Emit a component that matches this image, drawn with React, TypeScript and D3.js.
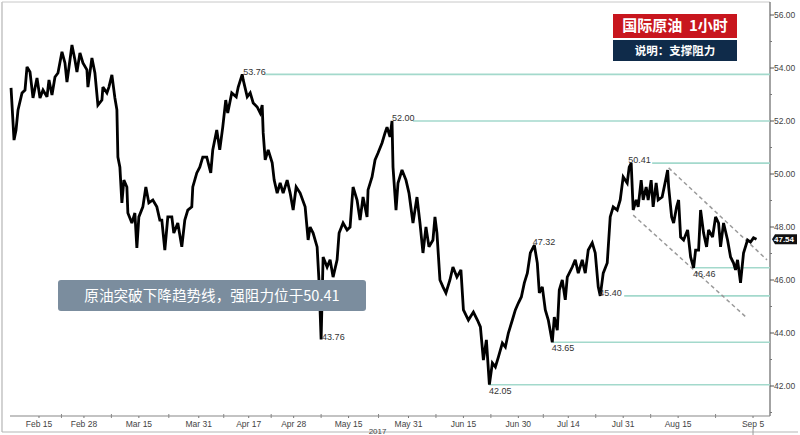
import React from 'react';
import * as d3 from 'd3';

// [trading-day offset from Feb 7 2017, price]
const priceSeries: [number, number][] = [
  [0.4,53.25],[1.0,51.28],[1.4,51.66],[1.8,52.42],[2.6,53.06],[3.2,53.17],[3.6,54.04],[4.2,53.85],[4.8,52.87],[5.6,53.62],
  [6.2,52.87],[6.8,53.17],[7.6,52.91],[8.0,53.55],[8.6,52.98],[9.2,53.66],[9.8,53.81],[10.6,54.61],[11.2,54.19],[11.6,53.47],
  [12.2,54.30],[12.6,54.87],[13.2,54.30],[13.6,53.85],[14.2,54.57],[14.8,54.19],[15.6,53.93],[15.8,53.28],[16.6,54.38],[17.2,53.81],
  [17.8,52.60],[18.6,52.79],[18.8,53.28],[19.6,53.06],[20.0,53.28],[20.6,53.74],[21.2,52.87],[21.6,52.42],[21.8,50.64],[22.2,50.26],
  [22.6,48.91],[23.0,49.77],[23.6,49.51],[23.8,48.53],[24.6,48.15],[25.2,48.53],[25.6,47.21],[26.0,48.38],[26.8,48.76],[27.4,49.51],
  [28.0,48.91],[28.8,49.02],[29.6,48.76],[30.2,48.26],[30.6,48.26],[31.2,47.13],[31.8,48.38],[32.6,48.38],[33.0,47.77],[33.8,48.15],
  [34.6,47.25],[35.2,48.26],[35.8,48.64],[36.6,48.76],[36.8,49.51],[37.6,50.04],[38.2,50.26],[38.8,50.64],[39.6,50.64],[40.4,50.04],
  [40.8,50.91],[41.6,51.66],[42.2,50.91],[42.8,51.77],[43.4,52.79],[43.8,52.30],[44.6,53.06],[45.5,52.91],[45.9,53.28],[46.7,53.76],
  [46.9,53.55],[47.7,52.91],[48.3,53.06],[48.9,52.68],[49.7,52.53],[50.3,52.30],[50.7,52.60],[50.9,51.55],[51.3,50.53],[51.9,50.91],
  [52.7,50.42],[53.1,49.77],[53.7,49.28],[54.3,49.66],[54.9,49.28],[55.7,49.77],[56.3,49.28],[56.9,48.64],[57.5,49.51],[58.3,49.28],
  [59.3,48.76],[59.9,47.51],[60.3,48.00],[60.9,47.77],[61.7,47.25],[62.1,45.89],[62.5,43.76],[62.9,46.87],[63.7,46.49],[64.3,46.76],
  [64.9,46.11],[65.7,46.76],[66.1,47.77],[66.9,48.15],[67.7,47.89],[68.3,48.00],[68.7,49.02],[68.9,49.51],[69.7,49.02],[70.3,48.26],
  [70.9,49.13],[71.7,48.38],[71.9,49.40],[72.7,49.89],[73.3,50.53],[73.9,50.79],[74.7,51.17],[75.3,51.55],[75.7,51.77],[76.3,51.40],
  [76.7,52.00],[76.9,50.26],[77.5,48.64],[77.9,49.66],[78.7,50.15],[79.5,49.77],[80.1,49.28],[80.9,48.15],[81.7,49.13],[82.3,48.15],
  [82.9,47.02],[83.5,48.00],[84.1,47.25],[84.9,47.51],[85.3,48.38],[85.7,47.77],[86.3,46.00],[86.9,45.74],[87.5,45.51],[88.3,46.00],
  [88.9,46.49],[89.7,46.11],[90.5,46.38],[91.0,44.87],[92.0,44.49],[93.0,44.79],[93.8,44.49],[94.4,44.23],[95.0,42.98],[95.6,43.74],
  [96.2,42.05],[96.8,42.87],[97.4,42.72],[98.0,43.09],[98.8,43.62],[99.4,43.47],[100.0,44.00],[100.8,44.49],[101.4,44.87],[102.0,45.13],
  [102.6,45.36],[103.2,45.89],[103.8,46.26],[104.4,47.02],[105.2,47.32],[105.8,46.64],[106.2,45.51],[106.8,45.74],[107.4,44.87],[108.0,44.49],
  [108.8,43.65],[109.2,44.60],[109.8,44.11],[110.2,45.62],[110.8,46.00],[111.4,45.25],[111.8,46.11],[112.8,46.49],[113.4,46.76],[114.0,46.26],
  [114.8,46.76],[115.4,46.26],[116.0,47.13],[116.8,47.40],[117.4,47.02],[118.0,45.74],[118.4,45.40],[119.0,46.26],[119.8,46.64],[120.4,48.38],
  [121.0,48.76],[121.8,48.64],[122.4,49.02],[123.0,49.89],[123.8,49.66],[124.2,50.26],[124.6,50.41],[125.0,48.64],[125.6,49.02],[126.0,48.76],
  [126.6,49.77],[127.0,49.02],[127.6,49.51],[128.0,49.02],[128.6,49.77],[129.0,48.76],[129.6,49.66],[130.0,49.02],[130.8,49.13],[131.5,49.77],
  [131.9,50.15],[132.1,49.51],[132.7,48.38],[133.1,48.15],[133.7,48.76],[134.1,49.02],[134.5,47.62],[135.1,47.51],[135.9,47.89],[136.5,46.87],
  [137.1,46.46],[137.5,47.13],[138.1,47.13],[138.5,48.64],[139.1,47.77],[139.7,47.25],[140.1,47.89],[140.9,47.62],[141.5,48.38],[142.1,48.15],
  [142.5,47.25],[143.1,48.15],[143.9,47.51],[144.5,46.87],[145.1,46.64],[145.5,46.38],[145.9,46.76],[146.5,45.89],[147.1,47.02],[147.9,47.51],
  [148.5,47.43],[149.1,47.59],[149.7,47.54],
];

const lastPrice = 47.54;

const yTickValues = [42, 44, 46, 48, 50, 52, 54, 56];
const yMinorTickValues = [41, 43, 45, 47, 49, 51, 53, 55];

const xTickDays = [6, 15, 26, 38, 48, 57, 68, 80, 91, 102, 112, 123, 134, 149];
const xTickLabels = ['Feb 15', 'Feb 28', 'Mar 15', 'Mar 31', 'Apr 17', 'Apr 28', 'May 15', 'May 31', 'Jun 15', 'Jun 30', 'Jul 14', 'Jul 31', 'Aug 15', 'Sep 5'];
const yearLabel = '2017';
const yearLabelDay = 73.8;

// support / resistance levels
const levelValues = [53.76, 52.0, 50.41, 46.46, 45.4, 43.65, 42.05];
const levelStartDays = [51.3, 80.9, 128.8, 137.0, 123.2, 108.9, 96.1];

// point annotations
const noteValues = [53.76, 52.0, 50.41, 47.32, 45.4, 46.46, 43.65, 43.76, 42.05];
const noteDays = [46.9, 76.7, 124.0, 104.9, 118.2, 137.0, 108.7, 62.7, 96.1];
const noteBelow = [false, false, false, false, false, true, true, false, true];

// falling channel (dashed)
const channelUpper: [number, number][] = [[132.1, 50.23], [151.8, 46.76]];
const channelLower: [number, number][] = [[125.0, 48.45], [147.6, 44.6]];

const titleText = '国际原油  1小时';
const subtitleText = '说明：支撑阻力';
const noteText = '原油突破下降趋势线，强阻力位于50.41';

const W = 800;
const H = 435;
const plotLeft = 2;
const plotTop = 2;
const plotRight = 770;
const plotBottom = 416;

export default function App() {
  const x = d3.scaleLinear().domain([0, 152.4]).range([9.04, plotRight]);
  const y = d3.scaleLinear().domain([42, 56]).range([386, 15]);

  const line = d3
    .line<[number, number]>()
    .x((d) => x(d[0]))
    .y((d) => y(d[1]))
    .curve(d3.curveLinear);

  const numFont = "'Liberation Sans', Arial, sans-serif";
  const cjkFont = "'Noto Sans CJK SC', 'Noto Sans', sans-serif";

  const mids = xTickDays.slice(1).map((d, i) => (d + xTickDays[i]) / 2);

  return (
    <svg
      width={W}
      height={H}
      style={{ position: 'absolute', left: 0, top: 0, background: '#fff' }}
    >
      <rect x={0} y={0} width={W} height={H} fill="#fff" />
      {/* frame */}
      <line x1={plotLeft} y1={plotTop} x2={plotLeft} y2={432} stroke="#b5b5b5" strokeWidth={1.2} />
      <line x1={plotLeft} y1={plotTop} x2={plotRight} y2={plotTop} stroke="#c8c8c8" strokeWidth={1} />
      <line x1={plotLeft} y1={432} x2={798} y2={432} stroke="#b5b5b5" strokeWidth={1.2} />
      <line x1={plotRight} y1={plotTop} x2={plotRight} y2={plotBottom} stroke="#666" strokeWidth={1.2} />
      <line x1={10} y1={plotBottom} x2={plotRight} y2={plotBottom} stroke="#888" strokeWidth={1.2} />

      {/* level lines */}
      {levelValues.map((v, i) => (
        <line
          key={'lv' + i}
          x1={x(levelStartDays[i])}
          x2={plotRight}
          y1={y(v)}
          y2={y(v)}
          stroke="#a3d9cc"
          strokeWidth={1.6}
        />
      ))}

      {/* channel */}
      {[channelUpper, channelLower].map((c, i) => (
        <path
          key={'ch' + i}
          d={line(c) || ''}
          fill="none"
          stroke="#9a9a9a"
          strokeWidth={1.5}
          strokeDasharray="4,3"
        />
      ))}

      {/* price series */}
      <path
        d={line(priceSeries) || ''}
        fill="none"
        stroke="#000"
        strokeWidth={2.8}
        strokeLinejoin="miter"
        strokeMiterlimit={3}
      />

      {/* annotations */}
      {noteValues.map((v, i) => (
        <text
          key={'nt' + i}
          x={x(noteDays[i])}
          y={y(v) + (noteBelow[i] ? 6 : -3)}
          dy="0.35em"
          fontFamily={numFont}
          fontSize={9}
          fill="#333"
        >
          {v.toFixed(2)}
        </text>
      ))}

      {/* y axis */}
      {yTickValues.map((v) => (
        <g key={'yt' + v}>
          <line x1={plotRight} x2={plotRight + 4} y1={y(v)} y2={y(v)} stroke="#555" strokeWidth={1} />
          <text x={plotRight + 4} y={y(v)} dy="0.35em" fontFamily={numFont} fontSize={8.5} fill="#444">
            {v.toFixed(2)}
          </text>
        </g>
      ))}
      {yMinorTickValues.map((v) => (
        <line key={'ym' + v} x1={plotRight} x2={plotRight + 2} y1={y(v)} y2={y(v)} stroke="#777" strokeWidth={1} />
      ))}
      {/* last price tag */}
      <g>
        <path
          d={`M${plotRight + 2},${y(lastPrice)} L${plotRight + 5},${y(lastPrice) - 5} L${797},${y(lastPrice) - 5} L${797},${y(lastPrice) + 5} L${plotRight + 5},${y(lastPrice) + 5} Z`}
          fill="#111"
        />
        <text
          x={784}
          y={y(lastPrice)}
          dy="0.35em"
          textAnchor="middle"
          fontFamily={numFont}
          fontSize={8}
          fontWeight="bold"
          fill="#fff"
        >
          {lastPrice.toFixed(2)}
        </text>
      </g>

      {/* x axis */}
      {xTickDays.map((d, i) => (
        <g key={'xt' + d}>
          <line x1={x(d)} x2={x(d)} y1={plotBottom} y2={plotBottom + 2} stroke="#777" strokeWidth={1} />
          <text
            x={x(d)}
            y={424}
            dy="0.35em"
            textAnchor="middle"
            fontFamily={numFont}
            fontSize={8.5}
            fill="#444"
          >
            {xTickLabels[i]}
          </text>
        </g>
      ))}
      {mids.map((d) => (
        <line key={'xm' + d} x1={x(d)} x2={x(d)} y1={plotBottom - 2} y2={plotBottom + 2} stroke="#888" strokeWidth={1} />
      ))}
      <line x1={x(xTickDays[xTickDays.length - 1])} x2={x(xTickDays[xTickDays.length - 1])} y1={429} y2={435} stroke="#999" strokeWidth={1} />
      <text x={x(yearLabelDay)} y={431} dy="0.35em" textAnchor="middle" fontFamily={numFont} fontSize={8} fill="#444">
        {yearLabel}
      </text>

      {/* title boxes */}
      <rect x={613} y={14} width={124} height={24} fill="#c8161e" />
      <text
        x={675}
        y={26}
        dy="0.36em"
        textAnchor="middle"
        fontFamily={cjkFont}
        fontSize={15}
        fontWeight="bold"
        fill="#fff"
        style={{ whiteSpace: 'pre' }}
      >
        {titleText}
      </text>
      <rect x={613} y={40} width={124} height={21} fill="#0f2b4a" />
      <text
        x={675}
        y={50.5}
        dy="0.36em"
        textAnchor="middle"
        fontFamily={cjkFont}
        fontSize={11.5}
        fontWeight="bold"
        fill="#fff"
      >
        {subtitleText}
      </text>

      {/* note box */}
      <rect x={58} y={280} width={308} height={31} rx={3} ry={3} fill="#7b8d9e" />
      <text
        x={212}
        y={295.5}
        dy="0.36em"
        textAnchor="middle"
        fontFamily={cjkFont}
        fontSize={14.6}
        fill="#fff"
      >
        {noteText}
      </text>
    </svg>
  );
}
